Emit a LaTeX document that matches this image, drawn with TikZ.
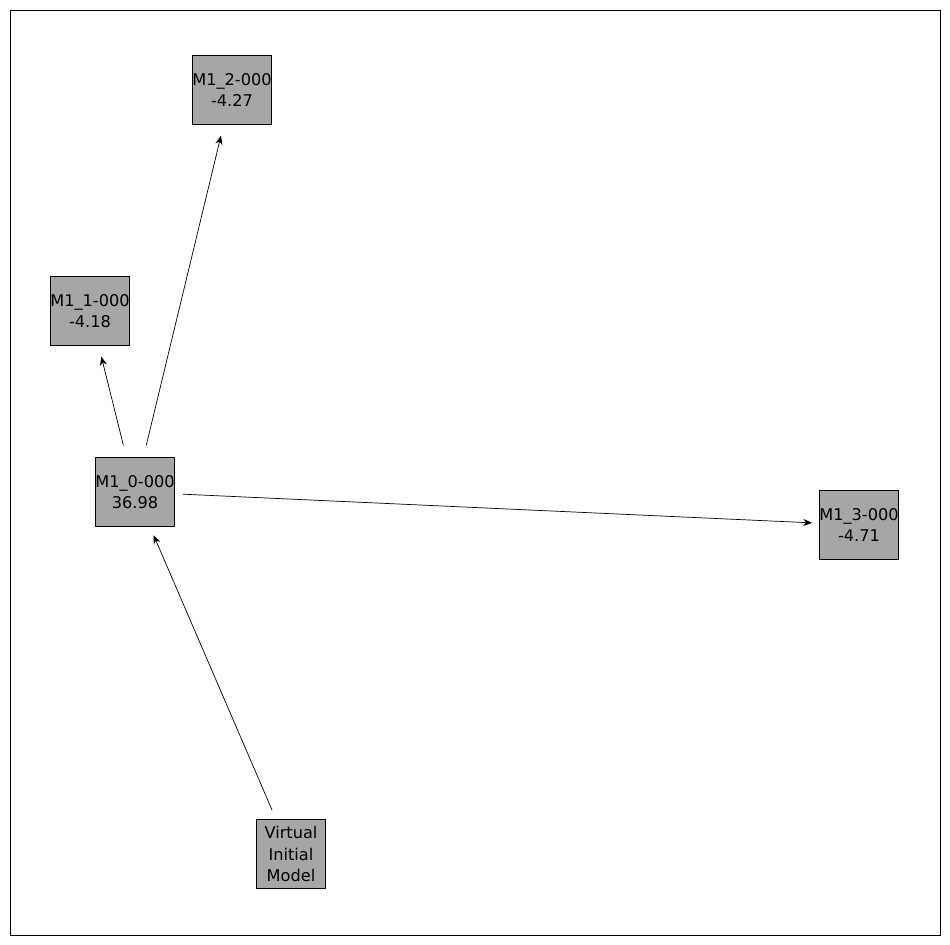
\documentclass[tikz,border=0pt]{standalone}
\usepackage{fontspec}
\setmainfont{DejaVu Sans}
\usetikzlibrary{arrows.meta}
\tikzset{model/.style={rectangle, draw, fill=black!35, minimum width=1.38cm, minimum height=1.38cm, inner sep=0pt, align=center, font=\fontsize{9.2pt}{12pt}\selectfont},
  edge/.style={-{Stealth[length=5pt,width=4pt]}, shorten <=0.96cm, shorten >=0.94cm}}
\begin{document}
\begin{tikzpicture}[x=0.02cm, y=-0.02cm]
        \useasboundingbox (0, 0) rectangle (950, 944);
        \draw (10, 10) rectangle (940, 935);
        \node[model] at (232, 90) (M2) {M1\_2-000\\-4.27};
        \node[model] at (90, 311) (M1) {M1\_1-000\\-4.18};
        \node[model] at (135, 492) (M0) {M1\_0-000\\36.98};
        \node[model] at (859, 525) (M3) {M1\_3-000\\-4.71};
        \node[model] at (291, 854) (VIM) {Virtual\\Initial\\Model};

        \draw[edge] (M0.center) -- (M1.center);
        \draw[edge] (M0.center) -- (M2.center);
        \draw[edge] (M0.center) -- (M3.center);
        \draw[edge] (VIM.center) -- (M0.center);
    \end{tikzpicture}
\end{document}
